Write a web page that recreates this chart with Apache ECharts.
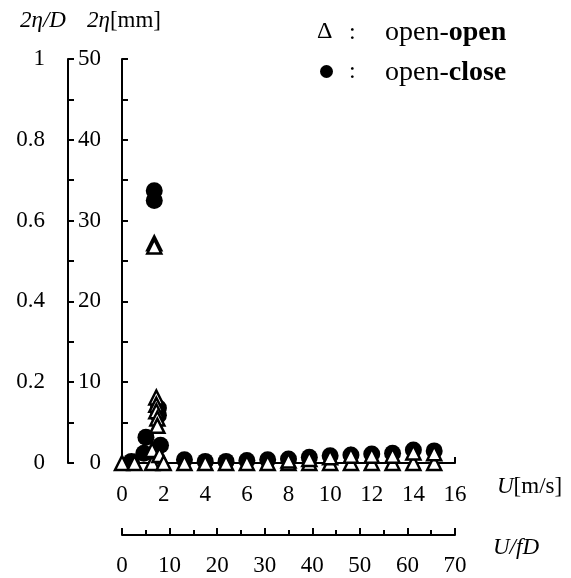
<!DOCTYPE html>
<html>
<head>
<meta charset="utf-8">
<script src="https://cdn.jsdelivr.net/npm/echarts@6/dist/echarts.min.js"></script>
<style>
html,body{margin:0;padding:0;background:#fff;}
#c{width:571px;height:578px;}
</style>
</head>
<body>
<div id="c"></div>
<script>
// open-open (triangles): U [m/s], 2eta [mm]
const ooU   = [0, 0.6, 1.45, 1.45, 1.55, 1.55, 1.65, 1.65, 1.65, 1.7, 1.7, 1.8, 2.0,
               3, 4, 5, 6, 7, 8, 9, 10, 11, 12, 13, 14, 15,
               8, 9, 10, 11, 12, 13, 14, 15];
const ooEta = [0, 0, 0, 1.6, 27.2, 26.8, 8.1, 7.2, 6.4, 5.5, 4.6, 1.0, 0,
               0, 0, 0, 0, 0, 0, 0, 0, 0, 0, 0, 0, 0,
               0.3, 0.5, 0.7, 0.9, 0.9, 0.9, 1.3, 1.2];
// open-close (circles)
const ocU   = [0.45, 1.05, 1.15, 1.55, 1.55, 1.75, 1.75, 1.85,
               3, 4, 5, 6, 7, 8, 9, 10, 11, 12, 13, 14, 15];
const ocEta = [0.2, 1.2, 3.2, 33.7, 32.5, 6.8, 5.9, 2.2,
               0.4, 0.2, 0.2, 0.3, 0.4, 0.5, 0.7, 0.9, 1.0, 1.1, 1.2, 1.6, 1.5];
const seriesNames = ['open-open', 'open-close'];

const FONT = '"Liberation Serif", "Times New Roman", serif';
const chart = echarts.init(document.getElementById('c'), null, {renderer: 'canvas'});
const pair = (xs, ys) => xs.map((x, i) => [x, ys[i]]);
const lineStyle = {color: '#000', width: 2};
const lbl = (margin, extra) => Object.assign({color: '#000', fontFamily: FONT, fontSize: 23, margin: margin}, extra || {});
const it = {fontFamily: FONT, fontSize: 23, fontStyle: 'italic', fill: '#000'};
const rg = {fontFamily: FONT, fontSize: 23, fill: '#000'};

chart.setOption({
  animation: false,
  backgroundColor: '#fff',
  grid: {left: 122, right: 116, top: 59, bottom: 115, containLabel: false},
  xAxis: [
    {type: 'value', min: 0, max: 16, interval: 2, position: 'bottom',
     axisLine: {show: true, onZero: false, lineStyle: lineStyle},
     axisTick: {show: true, inside: true, length: 6, lineStyle: lineStyle},
     axisLabel: lbl(20), splitLine: {show: false}},
    {type: 'value', min: 0, max: 70, interval: 10, position: 'bottom', offset: 72,
     axisLine: {show: true, onZero: false, lineStyle: lineStyle},
     axisTick: {show: true, inside: true, length: 7, lineStyle: lineStyle},
     minorTick: {show: true, splitNumber: 2, length: 5, lineStyle: lineStyle},
     axisLabel: lbl(19), splitLine: {show: false}}
  ],
  yAxis: [
    {type: 'value', min: 0, max: 50, interval: 10, position: 'left',
     axisLine: {show: true, onZero: false, lineStyle: lineStyle},
     axisTick: {show: true, inside: true, length: 6, lineStyle: lineStyle},
     minorTick: {show: true, splitNumber: 2, length: 6, lineStyle: lineStyle},
     axisLabel: lbl(21), splitLine: {show: false}},
    {type: 'value', min: 0, max: 1, interval: 0.2, position: 'left', offset: 54,
     axisLine: {show: true, onZero: false, lineStyle: lineStyle},
     axisTick: {show: true, inside: true, length: 6, lineStyle: lineStyle},
     minorTick: {show: true, splitNumber: 2, length: 6, lineStyle: lineStyle},
     axisLabel: lbl(23), splitLine: {show: false}}
  ],
  series: [
    {name: seriesNames[1], type: 'scatter', xAxisIndex: 0, yAxisIndex: 0,
     data: pair(ocU, ocEta), symbol: 'circle', symbolSize: 17,
     itemStyle: {color: '#000', borderColor: '#000', borderWidth: 0, opacity: 1}, z: 2},
    {name: seriesNames[0], type: 'scatter', xAxisIndex: 0, yAxisIndex: 0,
     data: pair(ooU, ooEta), symbol: 'triangle', symbolSize: [14, 14],
     itemStyle: {color: '#fff', borderColor: '#000', borderWidth: 2.5, opacity: 1}, z: 3}
  ],
  graphic: [
    {type: 'text', left: 20, top: 9, style: {text: '{i|2η/D}', rich: {i: it}}},
    {type: 'text', left: 87, top: 9, style: {text: '{i|2η}{r|[mm]}', rich: {i: it, r: rg}}},
    {type: 'text', left: 497, top: 475, style: {text: '{i|U}{r|[m/s]}', rich: {i: it, r: rg}}},
    {type: 'text', left: 493, top: 536, style: {text: '{i|U/fD}', rich: {i: it}}},
    // legend
    {type: 'text', x: 317, y: 32, style: {text: 'Δ', fontFamily: FONT, fontSize: 24, fill: '#000', verticalAlign: 'middle'}},
    {type: 'text', x: 349, y: 33, style: {text: ':', fontFamily: FONT, fontSize: 24, fill: '#000', verticalAlign: 'middle'}},
    {type: 'text', x: 385, y: 33, style: {text: '{r|open-}{b|open}', verticalAlign: 'middle', rich: {
        r: {fontFamily: FONT, fontSize: 28, fill: '#000'},
        b: {fontFamily: FONT, fontSize: 28, fontWeight: 'bold', fill: '#000'}}}},
    {type: 'circle', shape: {cx: 326.5, cy: 71.5, r: 6.5}, style: {fill: '#000'}},
    {type: 'text', x: 349, y: 72, style: {text: ':', fontFamily: FONT, fontSize: 24, fill: '#000', verticalAlign: 'middle'}},
    {type: 'text', x: 385, y: 73, style: {text: '{r|open-}{b|close}', verticalAlign: 'middle', rich: {
        r: {fontFamily: FONT, fontSize: 28, fill: '#000'},
        b: {fontFamily: FONT, fontSize: 28, fontWeight: 'bold', fill: '#000'}}}}
  ]
});
</script>
</body>
</html>
